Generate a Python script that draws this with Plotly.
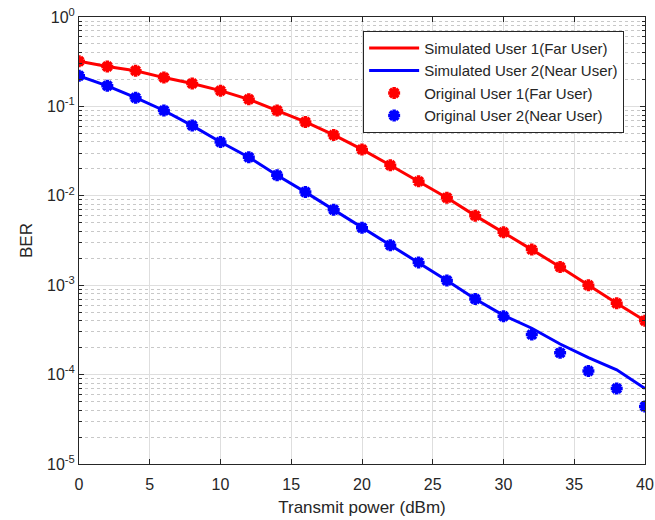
import plotly.graph_objects as go

power = [0, 2, 4, 6, 8, 10, 12, 14, 16, 18, 20, 22, 24, 26, 28, 30, 32, 34, 36, 38, 40]

sim_user1 = [0.32, 0.28, 0.25, 0.21, 0.18, 0.15, 0.12, 0.09, 0.067, 0.048, 0.033,
             0.022, 0.0145, 0.0095, 0.006, 0.0039, 0.0025, 0.0016, 0.001, 0.00063, 0.0004]
sim_user2 = [0.22, 0.17, 0.125, 0.09, 0.061, 0.04, 0.027, 0.017, 0.011, 0.007, 0.0044,
             0.0028, 0.0018, 0.00113, 0.0007, 0.00046, 0.00033, 0.00022, 0.000155, 0.000113, 0.00007]
orig_user1 = [0.32, 0.28, 0.25, 0.21, 0.18, 0.15, 0.12, 0.09, 0.067, 0.048, 0.033,
              0.022, 0.0145, 0.0095, 0.006, 0.0039, 0.0025, 0.0016, 0.001, 0.00063, 0.0004]
orig_user2 = [0.22, 0.17, 0.125, 0.09, 0.061, 0.04, 0.027, 0.017, 0.011, 0.007, 0.0044,
              0.0028, 0.0018, 0.00113, 0.0007, 0.00045, 0.00028, 0.000175, 0.00011, 0.00007, 0.000044]

x_ticks = [0, 5, 10, 15, 20, 25, 30, 35, 40]
y_exps = [0, -1, -2, -3, -4, -5]

RED = "rgb(255,0,0)"
BLUE = "rgb(0,0,255)"
FONT = "Liberation Sans, Arial, sans-serif"
INK = "#262626"

fig = go.Figure()
fig.add_trace(go.Scatter(x=power, y=sim_user1, mode="lines", name="Simulated User 1(Far User)",
                         line=dict(color=RED, width=3)))
fig.add_trace(go.Scatter(x=power, y=sim_user2, mode="lines", name="Simulated User 2(Near User)",
                         line=dict(color=BLUE, width=3)))
fig.add_trace(go.Scatter(x=power, y=orig_user1, mode="markers", name="Original User 1(Far User)",
                         marker=dict(symbol="asterisk", size=10, color=RED,
                                     line=dict(color=RED, width=3.5))))
fig.add_trace(go.Scatter(x=power, y=orig_user2, mode="markers", name="Original User 2(Near User)",
                         marker=dict(symbol="asterisk", size=10, color=BLUE,
                                     line=dict(color=BLUE, width=3.5))))

minor_vals = [m * 10.0 ** e for e in range(-5, 0) for m in range(2, 10)]

fig.update_layout(
    width=655, height=520,
    margin=dict(l=79, r=10, t=17, b=56),
    paper_bgcolor="white", plot_bgcolor="white",
    font=dict(family=FONT, size=16, color=INK),
    showlegend=True,
    legend=dict(x=0.502, y=0.969, xanchor="left", yanchor="top",
                bgcolor="white", bordercolor=INK, borderwidth=1,
                font=dict(size=15, family=FONT, color=INK),
                tracegroupgap=0, itemwidth=50),
    xaxis=dict(range=[0, 40], tickvals=x_ticks, ticktext=[str(v) for v in x_ticks],
               automargin=False,
               showgrid=True, gridcolor="#dedede", gridwidth=1,
               showline=True, linecolor=INK, linewidth=1, mirror="ticks",
               ticks="inside", ticklen=5, tickcolor=INK,
               tickfont=dict(size=16), ticklabelstandoff=6,
               title=dict(text="Transmit power (dBm)", font=dict(size=17), standoff=8),
               zeroline=False),
    yaxis=dict(type="log", range=[-5, 0],
               automargin=False,
               tickvals=[10.0 ** e for e in y_exps],
               ticktext=["10<sup>%d</sup>" % e for e in y_exps],
               tickfont=dict(size=16),
               showgrid=True, gridcolor="#dedede", gridwidth=1,
               showline=True, linecolor=INK, linewidth=1, mirror="ticks",
               ticks="inside", ticklen=5, tickcolor=INK,
               minor=dict(tickvals=minor_vals, showgrid=True, gridcolor="#c8c8c8",
                          griddash="dot", ticks="inside", ticklen=3, tickcolor=INK),
               title=dict(text="BER", font=dict(size=17), standoff=10),
               zeroline=False),
)

fig.write_html("out.html",
               config={"displayModeBar": False},
               post_script="document.body.style.margin='0';document.body.style.overflow='hidden';")
